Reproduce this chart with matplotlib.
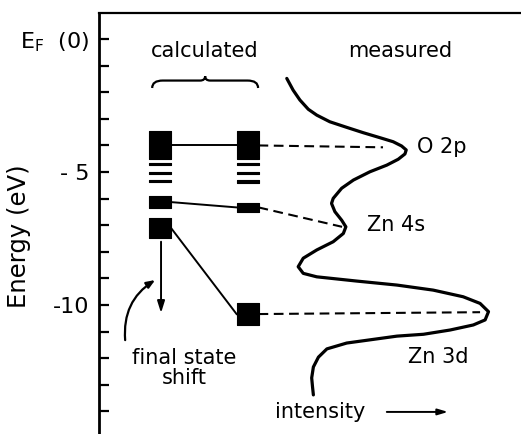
import numpy as np
import matplotlib as mpl
mpl.use('Agg')
import matplotlib.pyplot as plt
from matplotlib.path import Path
from matplotlib.patches import PathPatch

plt.rcParams['font.family'] = ['DejaVu Sans']
plt.rcParams['lines.scale_dashes'] = False

# calculated levels (eV) and their drawn thickness (eV)
left_E = [-4.0, -4.70, -5.04, -5.34, -6.13, -7.10]
left_h = [1.05, 0.10, 0.10, 0.10, 0.45, 0.75]
right_E = [-4.0, -4.70, -5.04, -5.36, -6.33, -10.34]
right_h = [1.05, 0.10, 0.10, 0.10, 0.34, 0.83]
links = [(0, 0), (4, 4), (5, 5)]

# measured spectrum (intensity a.u., energy eV)
spec_I = [4.45, 4.60, 4.76, 4.96, 5.16, 5.47, 5.87, 6.26, 6.66, 6.97, 7.17, 7.28,
          7.25, 7.09, 6.82, 6.42, 6.03, 5.75, 5.55, 5.51, 5.59, 5.75, 5.85, 5.79,
          5.55, 5.16, 4.84, 4.72, 4.84, 5.16, 6.11, 7.06, 7.92, 8.63, 9.03, 9.23,
          9.15, 8.87, 8.32, 7.69, 7.06, 5.87, 5.40, 5.20, 5.08, 5.04, 5.06, 5.08]
spec_E = [-1.48, -1.92, -2.29, -2.64, -2.86, -3.11, -3.32, -3.52, -3.71, -3.86, -4.02, -4.17,
          -4.32, -4.52, -4.74, -4.99, -5.30, -5.61, -5.99, -6.18, -6.49, -6.81, -7.06, -7.31,
          -7.62, -7.93, -8.24, -8.56, -8.81, -8.94, -9.10, -9.25, -9.44, -9.69, -9.94, -10.25,
          -10.56, -10.75, -10.94, -11.10, -11.17, -11.43, -11.65, -11.96, -12.33, -12.74, -13.08, -13.38]

peak_names = ['O 2p', 'Zn 4s', 'Zn 3d']
peak_src = [0, 4, 5]
peak_E = [-4.07, -7.06, -10.27]
dash_end = [6.73, 5.76, 9.03]

col_x = [1.445, 3.52]
bar_w = 0.52


def brace(ax, x0, x1, y, h):
    xm = (x0 + x1) / 2.0
    verts = [(x0, y - h), (x0, y), (x0 + 0.25, y),
             (xm - 0.12, y), (xm, y), (xm, y + h * 0.6),
             (xm, y), (xm + 0.12, y),
             (x1 - 0.25, y), (x1, y), (x1, y - h)]
    codes = [Path.MOVETO, Path.CURVE3, Path.CURVE3,
             Path.LINETO, Path.CURVE3, Path.CURVE3,
             Path.CURVE3, Path.CURVE3,
             Path.LINETO, Path.CURVE3, Path.CURVE3]
    ax.add_patch(PathPatch(Path(verts, codes), fill=False, lw=1.6, color='black'))


fig = plt.figure(figsize=(5.21, 4.34), dpi=100)
ax = fig.add_axes([99 / 521, 0, 422 / 521, 421 / 434])
ax.set_xlim(0, 10)
ax.set_ylim(-14.85, 0.98)

for s in ['right', 'bottom']:
    ax.spines[s].set_visible(False)
ax.spines['left'].set_linewidth(2.0)
ax.spines['top'].set_linewidth(1.6)
ax.set_xticks([])
ax.set_yticks([0, -5, -10])
ax.set_yticklabels(['E$_\\mathregular{F}$  (0)', '- 5', '-10'], fontsize=16)
ax.set_yticks(np.arange(-14, 0), minor=True)
ax.tick_params(axis='y', which='both', direction='in', length=7.5, width=1.6, pad=7)
ax.set_ylabel('Energy (eV)', fontsize=17.5)
ax.yaxis.set_label_coords(-0.16, 0.47)

# calculated levels
for x, E, h in [(col_x[0], left_E, left_h), (col_x[1], right_E, right_h)]:
    E = np.array(E)
    h = np.array(h)
    ax.bar([x] * len(E), h, width=bar_w, bottom=E - h / 2, color='black',
           edgecolor='black', linewidth=0.8, joinstyle='round')

for a, b in links:
    ax.plot([col_x[0] + bar_w / 2, col_x[1] - bar_w / 2], [left_E[a], right_E[b]],
            color='black', lw=1.4)

# measured spectrum
ax.plot(spec_I, spec_E, color='black', lw=2.3, solid_joinstyle='round', solid_capstyle='round')

for name, src, E, xe in zip(peak_names, peak_src, peak_E, dash_end):
    ax.plot([col_x[1] + bar_w / 2, xe], [right_E[src], E], color='black', lw=1.5,
            dashes=(7, 4))

ax.text(7.54, -4.06, 'O 2p', fontsize=15, va='center', ha='left')
ax.text(6.35, -7.0, 'Zn 4s', fontsize=15, va='center', ha='left')
ax.text(7.32, -11.95, 'Zn 3d', fontsize=15, va='center', ha='left')

ax.text(2.51, -0.45, 'calculated', fontsize=15, ha='center', va='center')
ax.text(7.13, -0.45, 'measured', fontsize=15, ha='center', va='center')
brace(ax, 1.26, 3.77, -1.56, 0.28)

# final state shift
ax.annotate('', xy=(1.47, -10.30), xytext=(1.47, -7.62),
            arrowprops=dict(arrowstyle='-|>,head_length=0.7,head_width=0.22',
                            color='black', lw=1.4, shrinkA=0, shrinkB=0))
ax.annotate('', xy=(1.33, -9.06), xytext=(0.62, -11.32),
            arrowprops=dict(arrowstyle='-|>,head_length=0.5,head_width=0.2',
                            color='black', lw=1.6, shrinkA=0, shrinkB=0,
                            connectionstyle='arc3,rad=-0.3'))
ax.text(2.01, -12.37, 'final state\nshift', fontsize=15, ha='center', va='center',
        linespacing=1.0)

ax.text(4.17, -14.02, 'intensity', fontsize=15, ha='left', va='center')
ax.annotate('', xy=(8.27, -14.02), xytext=(6.82, -14.02),
            arrowprops=dict(arrowstyle='-|>,head_length=0.6,head_width=0.18',
                            color='black', lw=1.4, shrinkA=0, shrinkB=0))

fig.savefig('out.png', dpi=100)
